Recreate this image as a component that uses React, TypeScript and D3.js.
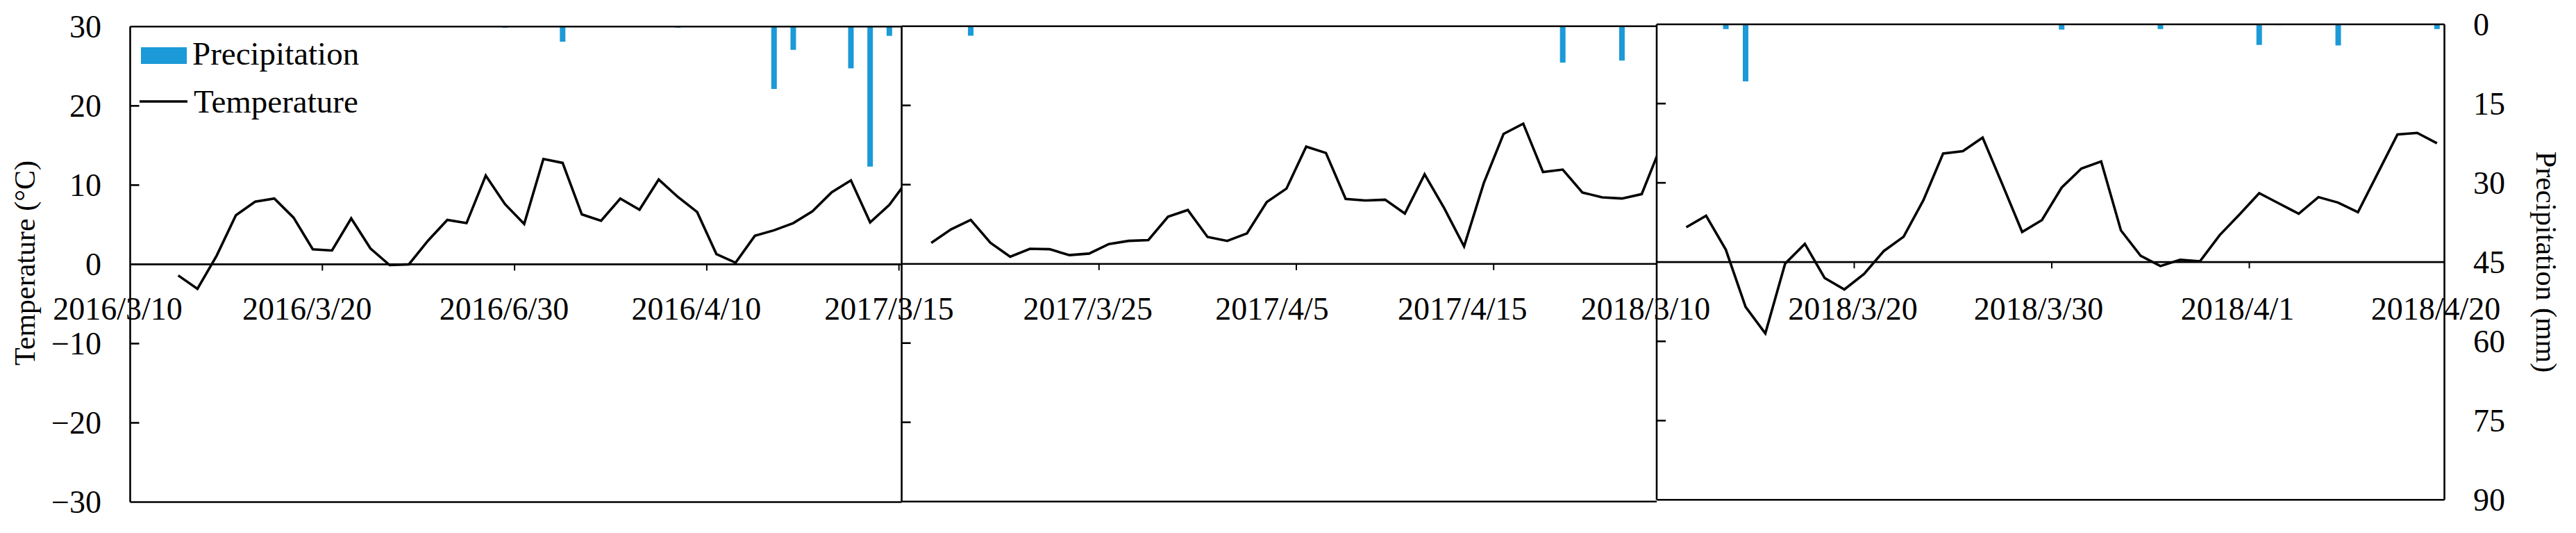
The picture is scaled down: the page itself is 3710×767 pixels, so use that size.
import React from "react";
import * as d3 from "d3";

// ---------- DATA ----------
// Daily mean temperature (°C), index = day position in the panel (null = no data)
const temp2016: (number | null)[] = [
  null, null, -1.4, -3.1, 1.1, 6.2, 7.9, 8.3, 5.9, 1.9,
  1.75, 5.8, 2.0, -0.1, 0.0, 3.0, 5.6, 5.2, 11.2, 7.6,
  5.1, 13.3, 12.8, 6.3, 5.5, 8.3, 6.9, 10.7, 8.5, 6.6,
  1.3, 0.2, 3.6, 4.3, 5.2, 6.7, 9.1, 10.6, 5.3, 7.5,
  10.8,
];
const temp2017: (number | null)[] = [
  null, 2.65, 4.35, 5.55, 2.65, 0.9, 1.9, 1.85, 1.1, 1.3,
  2.5, 2.9, 3.0, 5.95, 6.8, 3.4, 2.9, 3.85, 7.8, 9.5,
  14.8, 14.0, 8.2, 8.0, 8.1, 6.35, 11.3, 7.0, 2.2, 10.2,
  16.4, 17.7, 11.6, 11.9, 9.0, 8.4, 8.25, 8.8, 15.0,
];
const temp2018: (number | null)[] = [
  null, 4.4, 5.85, 1.56, -5.65, -9.0, -0.2, 2.3, -2.0, -3.45,
  -1.5, 1.4, 3.2, 7.8, 13.7, 14.0, 15.7, 9.8, 3.8, 5.3,
  9.4, 11.8, 12.7, 4.0, 0.8, -0.5, 0.3, 0.1, 3.4, 6.0,
  8.7, 7.4, 6.1, 8.2, 7.5, 6.3, 11.2, 16.1, 16.3, 15.0,
];

// Daily precipitation (mm)
const precip2016: number[] = [
  0, 0, 0, 0, 0, 0, 0, 0, 0, 0,
  0, 0, 0, 0, 0, 0, 0, 0, 0, 0.2,
  0, 0, 2.85, 0, 0, 0, 0, 0, 0.2, 0,
  0, 0, 0, 11.8, 4.4, 0, 0, 7.9, 26.5, 1.75,
  0,
];
const precip2017: number[] = [
  0, 0, 0, 1.8, 0, 0, 0, 0, 0, 0,
  0, 0, 0, 0, 0, 0, 0, 0, 0, 0,
  0, 0, 0, 0, 0, 0, 0, 0, 0, 0,
  0, 0, 0, 6.9, 0, 0, 6.5, 0, 0,
];
const precip2018: number[] = [
  0, 0, 0, 0.9, 10.8, 0, 0, 0, 0, 0,
  0, 0, 0, 0, 0, 0, 0, 0, 0, 0,
  1.0, 0, 0, 0, 0, 0.9, 0, 0, 0, 0,
  3.9, 0.15, 0, 0, 4.0, 0, 0, 0, 0, 0.9,
];

// Date tick labels (one every 10 days) and the day index they sit on
const labels2016 = ["2016/3/10", "2016/3/20", "2016/6/30", "2016/4/10"];
const labels2017 = ["2017/3/15", "2017/3/25", "2017/4/5", "2017/4/15"];
const labels2018 = ["2018/3/10", "2018/3/20", "2018/3/30", "2018/4/1", "2018/4/20"];
const labelDays2016 = [0, 10, 20, 30];
const labelDays2017 = [0, 10, 20, 30];
const labelDays2018 = [0, 10, 20, 30, 40];
const tickDays2016 = [10, 20, 30, 40];
const tickDays2017 = [10, 20, 30];
const tickDays2018 = [10, 20, 30];

const tempTicks = [30, 20, 10, 0, -10, -20, -30];
const precipTicks = [0, 15, 30, 45, 60, 75, 90];

// ---------- LAYOUT / STYLE ----------
const W = 3710;
const H = 767;
const FONT = "'Liberation Serif', 'Times New Roman', serif";
const BLUE = "#1B9AD7";
const AXIS_W = 2.6;

const panelLayout = [
  { left: 187.5, right: 1298.6, step: 27.68, top: 38.3, bottom: 722.5 },
  { left: 1298.6, right: 2386, step: 28.42, top: 37.7, bottom: 721.7 },
  { left: 2386, right: 3520.5, step: 28.45, top: 35, bottom: 719.3 },
];

// horizontal nudge (px) of each date label relative to its tick
const labelNudge = [
  [-18, -22, -15, -15],
  [-18, -16, -35, -45],
  [-16, -2, -19, -17, -16],
];

const panelsData = [
  { temp: temp2016, precip: precip2016, labels: labels2016, labelDays: labelDays2016, ticks: tickDays2016 },
  { temp: temp2017, precip: precip2017, labels: labels2017, labelDays: labelDays2017, ticks: tickDays2017 },
  { temp: temp2018, precip: precip2018, labels: labels2018, labelDays: labelDays2018, ticks: tickDays2018 },
];

function Panel({ idx }: { idx: number }) {
  const L = panelLayout[idx];
  const D = panelsData[idx];
  const nDays = (L.right - L.left) / L.step;
  const x = d3.scaleLinear().domain([0, nDays]).range([L.left, L.right]);
  const yT = d3.scaleLinear().domain([-30, 30]).range([L.bottom, L.top]);
  const yP = d3.scaleLinear().domain([0, 90]).range([L.top, L.bottom]);
  const barW = 8;
  const line = d3
    .line<number | null>()
    .defined((d) => d !== null)
    .x((_, i) => x(i + 0.5))
    .y((d) => yT(d as number));
  const clipId = `clip-${idx}`;
  const y0 = yT(0);
  return (
    <g>
      <defs>
        <clipPath id={clipId}>
          <rect x={L.left} y={L.top} width={L.right - L.left} height={L.bottom - L.top} />
        </clipPath>
      </defs>
      {/* precipitation bars hanging from top */}
      <g clipPath={`url(#${clipId})`}>
        {D.precip.map((p, i) =>
          p > 0 ? (
            <rect
              key={i}
              x={x(i + 0.5) - barW / 2}
              y={yP(0)}
              width={barW}
              height={yP(p) - yP(0)}
              fill={BLUE}
            />
          ) : null
        )}
        <path d={line(D.temp) || ""} fill="none" stroke="#000" strokeWidth={3.6} strokeLinejoin="miter" />
      </g>
      {/* frame */}
      <line x1={L.left} x2={L.right} y1={L.top} y2={L.top} stroke="#000" strokeWidth={AXIS_W} />
      <line x1={L.left} x2={L.right} y1={L.bottom} y2={L.bottom} stroke="#000" strokeWidth={AXIS_W} />
      <line x1={L.left} x2={L.left} y1={L.top} y2={L.bottom} stroke="#000" strokeWidth={AXIS_W} />
      {idx === 2 && (
        <line x1={L.right} x2={L.right} y1={L.top} y2={L.bottom} stroke="#000" strokeWidth={AXIS_W} />
      )}
      {/* zero line (x axis) */}
      <line x1={L.left} x2={L.right} y1={y0} y2={y0} stroke="#000" strokeWidth={AXIS_W} />
      {/* left axis inward ticks */}
      {tempTicks
        .filter((t) => t !== 0 && Math.abs(t) !== 30)
        .map((t) => (
          <line key={t} x1={L.left} x2={L.left + 13} y1={yT(t)} y2={yT(t)} stroke="#000" strokeWidth={AXIS_W} />
        ))}
      {/* x ticks */}
      {D.ticks.map((d) => (
        <line key={d} x1={x(d)} x2={x(d)} y1={y0} y2={y0 + 9} stroke="#000" strokeWidth={2} />
      ))}
      {/* x labels */}
      {D.labels.map((lab, k) => (
        <text
          key={lab}
          x={x(D.labelDays[k]) + labelNudge[idx][k]}
          y={459.5}
          textAnchor="middle"
          fontFamily={FONT}
          fontSize={46}
          fill="#000"
        >
          {lab}
        </text>
      ))}
      {/* left axis labels for first panel */}
      {idx === 0 &&
        tempTicks.map((t) => (
          <text
            key={t}
            x={146}
            y={yT(t) + 15.5}
            textAnchor="end"
            fontFamily={FONT}
            fontSize={46}
            fill="#000"
          >
            {t < 0 ? `\u2212${Math.abs(t)}` : `${t}`}
          </text>
        ))}
      {/* right axis labels for last panel */}
      {idx === 2 &&
        precipTicks.map((p) => (
          <text
            key={p}
            x={3562}
            y={yP(p) + 15.5}
            textAnchor="start"
            fontFamily={FONT}
            fontSize={46}
            fill="#000"
          >
            {p}
          </text>
        ))}
    </g>
  );
}

export default function App() {
  return (
    <svg
      width={W}
      height={H}
      viewBox={`0 0 ${W} ${H}`}
      style={{ position: "absolute", left: 0, top: 0, background: "#fff" }}
    >
      <rect x={0} y={0} width={W} height={H} fill="#fff" />
      {[0, 1, 2].map((i) => (
        <Panel key={i} idx={i} />
      ))}
      {/* axis titles */}
      <text
        transform="translate(50,378.5) rotate(-90)"
        textAnchor="middle"
        fontFamily={FONT}
        fontSize={42}
        fill="#000"
      >
        Temperature (°C)
      </text>
      <text
        transform="translate(3653,377) rotate(90)"
        textAnchor="middle"
        fontFamily={FONT}
        fontSize={42}
        fill="#000"
      >
        Precipitation (mm)
      </text>
      {/* legend */}
      <rect x={203} y={68} width={66} height={24} fill={BLUE} />
      <text x={277} y={93} fontFamily={FONT} fontSize={47} fill="#000">
        Precipitation
      </text>
      <line x1={201} x2={270} y1={146} y2={146} stroke="#000" strokeWidth={3.4} />
      <text x={279} y={162} fontFamily={FONT} fontSize={47} fill="#000">
        Temperature
      </text>
    </svg>
  );
}
